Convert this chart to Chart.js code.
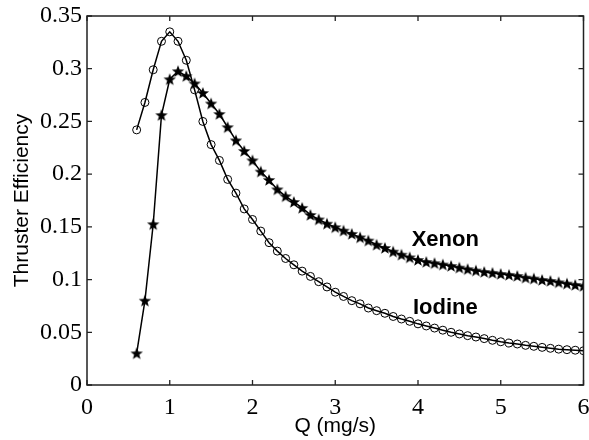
<!DOCTYPE html>
<html>
<head>
<meta charset="utf-8">
<script src="https://cdn.jsdelivr.net/npm/chart.js@4"></script>
<style>
  html, body { margin: 0; padding: 0; background: #fff; }
  #wrap { width: 589px; height: 440px; }
</style>
</head>
<body>
<div id="wrap"><canvas id="effChart" width="589" height="440"></canvas></div>
<script>
// Q (mg/s) sample points
const flowQ = [
  0.6, 0.7, 0.8, 0.9, 1.0, 1.1, 1.2, 1.3, 1.4, 1.5,
  1.6, 1.7, 1.8, 1.9, 2.0, 2.1, 2.2, 2.3, 2.4, 2.5,
  2.6, 2.7, 2.8, 2.9, 3.0, 3.1, 3.2, 3.3, 3.4, 3.5,
  3.6, 3.7, 3.8, 3.9, 4.0, 4.1, 4.2, 4.3, 4.4, 4.5,
  4.6, 4.7, 4.8, 4.9, 5.0, 5.1, 5.2, 5.3, 5.4, 5.5,
  5.6, 5.7, 5.8, 5.9, 6.0
];

// thruster efficiency, iodine (circles)
const iodineEff = [
  0.242, 0.268, 0.299, 0.326, 0.335, 0.326, 0.308, 0.280, 0.250, 0.228,
  0.213, 0.195, 0.182, 0.167, 0.157, 0.146, 0.135, 0.127, 0.120, 0.114,
  0.108, 0.103, 0.098, 0.093, 0.088, 0.084, 0.080, 0.077, 0.073, 0.0705,
  0.068, 0.065, 0.0626, 0.0604, 0.058, 0.056, 0.054, 0.052, 0.050, 0.0484,
  0.0468, 0.0455, 0.044, 0.0424, 0.041, 0.0398, 0.0389, 0.0376, 0.0367, 0.0357,
  0.0348, 0.034, 0.0335, 0.033, 0.0325
];

// thruster efficiency, xenon (stars)
const xenonEff = [
  0.030, 0.080, 0.1525, 0.256, 0.290, 0.2976, 0.293, 0.286, 0.277, 0.267,
  0.257, 0.2445, 0.232, 0.222, 0.213, 0.2024, 0.1945, 0.1855, 0.179, 0.1736,
  0.168, 0.1613, 0.157, 0.153, 0.1496, 0.1464, 0.1433, 0.140, 0.137, 0.133,
  0.130, 0.1265, 0.1236, 0.121, 0.1186, 0.1167, 0.1155, 0.1142, 0.1129, 0.1113,
  0.1098, 0.1085, 0.1072, 0.1063, 0.1053, 0.1044, 0.1034, 0.1018, 0.1009, 0.0996,
  0.0987, 0.0974, 0.0961, 0.0949, 0.0939
];

// in-plot text labels (data coordinates)
const curveLabels = [
  { text: "Xenon",  q: 4.33, eff: 0.138 },
  { text: "Iodine", q: 4.33, eff: 0.073 }
];

const xTicks = [0, 1, 2, 3, 4, 5, 6];
const yTicks = [0, 0.05, 0.1, 0.15, 0.2, 0.25, 0.3, 0.35];

// filled 5-point star marker
function starMarker(size) {
  const c = document.createElement("canvas");
  c.width = size; c.height = size;
  const g = c.getContext("2d");
  const cx = size / 2, cy = size / 2 + 0.5, R = size / 2 - 0.5, r = R * 0.42;
  g.beginPath();
  for (let i = 0; i < 10; i++) {
    const a = -Math.PI / 2 + i * Math.PI / 5;
    const rr = i % 2 === 0 ? R : r;
    g.lineTo(cx + rr * Math.cos(a), cy + rr * Math.sin(a));
  }
  g.closePath();
  g.fillStyle = "#000";
  g.fill();
  return c;
}

// box + inward ticks (matlab style) + curve labels
const framePlugin = {
  id: "frame",
  afterDraw(chart) {
    const { ctx, chartArea: a, scales } = chart;
    ctx.save();
    ctx.strokeStyle = "#222";
    ctx.lineWidth = 1.5;
    ctx.strokeRect(a.left, a.top, a.right - a.left, a.bottom - a.top);
    ctx.lineWidth = 1.3;
    ctx.beginPath();
    const t = 5;
    xTicks.forEach(v => {
      const px = scales.x.getPixelForValue(v);
      ctx.moveTo(px, a.bottom); ctx.lineTo(px, a.bottom - t);
      ctx.moveTo(px, a.top);    ctx.lineTo(px, a.top + t);
    });
    yTicks.forEach(v => {
      const py = scales.y.getPixelForValue(v);
      ctx.moveTo(a.left, py);  ctx.lineTo(a.left + t, py);
      ctx.moveTo(a.right, py); ctx.lineTo(a.right - t, py);
    });
    ctx.stroke();

    ctx.fillStyle = "#000";
    ctx.font = "bold 22px 'Liberation Sans', Arial, sans-serif";
    ctx.textAlign = "center";
    ctx.textBaseline = "middle";
    curveLabels.forEach(l => {
      ctx.fillText(l.text, scales.x.getPixelForValue(l.q), scales.y.getPixelForValue(l.eff));
    });
    ctx.restore();
  }
};

const tickFont = { family: "'Liberation Serif', 'Times New Roman', serif", size: 24 };
const titleFont = { family: "'Liberation Sans', Arial, sans-serif", size: 21 };

new Chart(document.getElementById("effChart"), {
  type: "line",
  data: {
    datasets: [
      {
        label: "Iodine",
        data: flowQ.map((q, i) => ({ x: q, y: iodineEff[i] })),
        borderColor: "#000",
        borderWidth: 1.5,
        backgroundColor: "transparent",
        pointStyle: "circle",
        pointRadius: 4,
        pointBorderWidth: 1,
        pointBorderColor: "#000",
        pointBackgroundColor: "transparent",
        tension: 0
      },
      {
        label: "Xenon",
        data: flowQ.map((q, i) => ({ x: q, y: xenonEff[i] })),
        borderColor: "#000",
        borderWidth: 1.5,
        backgroundColor: "transparent",
        pointStyle: starMarker(14),
        tension: 0
      }
    ]
  },
  options: {
    responsive: false,
    animation: false,
    devicePixelRatio: 1,
    layout: { padding: { left: 0, right: 5, top: 16, bottom: 0 } },
    plugins: { legend: { display: false }, tooltip: { enabled: false } },
    scales: {
      x: {
        type: "linear",
        min: 0, max: 6,
        afterBuildTicks: s => { s.ticks = xTicks.map(v => ({ value: v })); },
        afterFit: s => { s.height = 55; s.paddingLeft = 0; s.paddingRight = 0; },
        grid: { display: false, drawTicks: false },
        border: { display: false },
        ticks: { color: "#000", font: tickFont, padding: 8, maxRotation: 0 },
        title: { display: true, text: "Q (mg/s)", color: "#000", font: titleFont, padding: { top: 0, bottom: 1 } }
      },
      y: {
        min: 0, max: 0.35,
        afterBuildTicks: s => { s.ticks = yTicks.map(v => ({ value: v })); },
        afterFit: s => { s.width = 87; s.paddingTop = 0; s.paddingBottom = 0; },
        grid: { display: false, drawTicks: false },
        border: { display: false },
        ticks: {
          color: "#000", font: tickFont, padding: 5,
          callback: v => String(parseFloat(v.toFixed(2)))
        },
        title: { display: true, text: "Thruster Efficiency", color: "#000", font: titleFont, padding: { top: 10, bottom: 0 } }
      }
    }
  },
  plugins: [framePlugin]
});
</script>
</body>
</html>
